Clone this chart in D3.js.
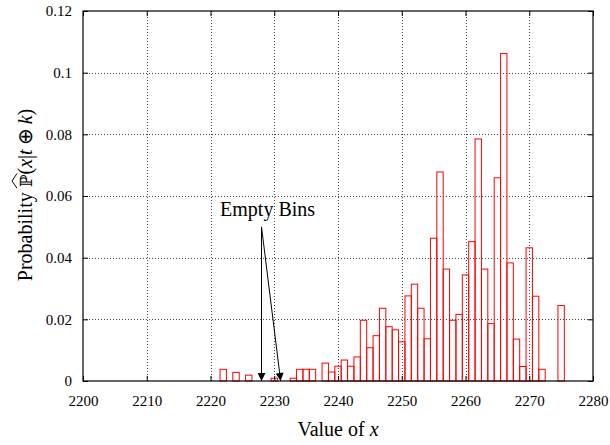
<!DOCTYPE html>
<html>
<head>
<meta charset="utf-8">
<script src="https://cdn.jsdelivr.net/npm/d3@7"></script>
<style>
  body { margin: 0; background: #fff; }
  svg text { font-family: "Liberation Serif", "Times New Roman", serif; fill: #000; }
</style>
</head>
<body>
<div id="chart"></div>
<script>
// histogram bins (value of x) and their estimated probability
var bins = [2222, 2224, 2226, 2230, 2233, 2234, 2235, 2236, 2238, 2239,
            2240, 2241, 2242, 2243, 2244, 2245, 2246, 2247, 2248, 2249,
            2250, 2251, 2252, 2253, 2254, 2255, 2256, 2257, 2258, 2259,
            2260, 2261, 2262, 2263, 2264, 2265, 2266, 2267, 2268, 2269,
            2270, 2271, 2272, 2275];
var probs = [0.0038, 0.0028, 0.0019, 0.0009, 0.0009, 0.0038, 0.0038, 0.0038, 0.0058, 0.0029,
             0.0048, 0.0068, 0.0048, 0.0078, 0.0197, 0.0108, 0.0147, 0.0236, 0.0176, 0.0166,
             0.0127, 0.0276, 0.0314, 0.0236, 0.0137, 0.0463, 0.0678, 0.0363, 0.0197, 0.0216,
             0.0344, 0.0452, 0.0785, 0.0363, 0.0186, 0.0659, 0.1062, 0.0383, 0.0136, 0.0047,
             0.0432, 0.0275, 0.0038, 0.0245];

var xTicks = [2200, 2210, 2220, 2230, 2240, 2250, 2260, 2270, 2280];
var yTicks = [0, 0.02, 0.04, 0.06, 0.08, 0.1, 0.12];
var yTickLabels = ["0", "0.02", "0.04", "0.06", "0.08", "0.1", "0.12"];

// annotation: arrows from the label down to the empty bins
var emptyBins = [2228, 2231];
var arrowFrom = {x: 2228, y: 0.05};
var noteText = "Empty Bins";
var notePos = {x: 2221.5, y: 0.0535};

var width = 610, height = 445;
var margin = {top: 11, right: 17, bottom: 64, left: 83};
var serif = "'Liberation Serif', 'Times New Roman', serif";

var svg = d3.select("#chart").append("svg")
    .attr("width", width)
    .attr("height", height);

var x = d3.scaleLinear()
    .domain([2200, 2280])
    .range([margin.left, width - margin.right]);
var y = d3.scaleLinear()
    .domain([0, 0.12])
    .range([height - margin.bottom, margin.top]);

var defs = svg.append("defs");
defs.append("marker")
    .attr("id", "head")
    .attr("viewBox", "0 0 10 10")
    .attr("refX", 10)
    .attr("refY", 5)
    .attr("markerUnits", "userSpaceOnUse")
    .attr("markerWidth", 10)
    .attr("markerHeight", 8)
    .attr("orient", "auto")
  .append("path")
    .attr("d", "M0,0L10,5L0,10Z")
    .attr("fill", "#000");

// grid
var grid = svg.append("g")
    .attr("stroke", "#444")
    .attr("stroke-width", 1)
    .attr("stroke-dasharray", "1,2");
grid.selectAll(".vg")
    .data(xTicks.slice(1, -1))
  .enter().append("line")
    .attr("x1", function(d) { return Math.round(x(d)) + 0.5; })
    .attr("x2", function(d) { return Math.round(x(d)) + 0.5; })
    .attr("y1", y(0))
    .attr("y2", y(0.12));
grid.selectAll(".hg")
    .data(yTicks.slice(1, -1))
  .enter().append("line")
    .attr("y1", function(d) { return Math.round(y(d)) + 0.5; })
    .attr("y2", function(d) { return Math.round(y(d)) + 0.5; })
    .attr("x1", x(2200))
    .attr("x2", x(2280));

// bars
svg.append("g").selectAll("rect")
    .data(bins)
  .enter().append("rect")
    .attr("x", function(d) { return x(d - 0.5); })
    .attr("width", function(d) { return x(d + 0.5) - x(d - 0.5); })
    .attr("y", function(d, i) { return y(probs[i]); })
    .attr("height", function(d, i) { return y(0) - y(probs[i]); })
    .attr("fill", "none")
    .attr("stroke", "#ff0000")
    .attr("stroke-width", 1);

// axes (ticks drawn inward on all four sides)
svg.append("g")
    .attr("transform", "translate(0," + y(0) + ")")
    .call(d3.axisBottom(x).tickValues(xTicks).tickSize(-5).tickPadding(14)
        .tickFormat(d3.format("d")));
svg.append("g")
    .attr("transform", "translate(" + x(2200) + ",0)")
    .call(d3.axisLeft(y).tickValues(yTicks).tickSize(-5).tickPadding(11)
        .tickFormat(function(d, i) { return yTickLabels[i]; }));
svg.append("g")
    .attr("transform", "translate(0," + y(0.12) + ")")
    .call(d3.axisTop(x).tickValues(xTicks).tickSize(-5).tickFormat(""));
svg.append("g")
    .attr("transform", "translate(" + x(2280) + ",0)")
    .call(d3.axisRight(y).tickValues(yTicks).tickSize(-5).tickFormat(""));

svg.selectAll(".domain").remove();
svg.selectAll(".tick line").attr("stroke", "#000");
svg.selectAll(".tick text")
    .style("font-size", "15px")
    .style("font-family", serif);

// frame
svg.append("rect")
    .attr("x", x(2200))
    .attr("y", y(0.12))
    .attr("width", x(2280) - x(2200))
    .attr("height", y(0) - y(0.12))
    .attr("fill", "none")
    .attr("stroke", "#000")
    .attr("stroke-width", 1.2);

// annotation
svg.append("g").selectAll("line")
    .data(emptyBins)
  .enter().append("line")
    .attr("x1", x(arrowFrom.x))
    .attr("y1", y(arrowFrom.y))
    .attr("x2", function(d) { return x(d); })
    .attr("y2", y(0))
    .attr("stroke", "#000")
    .attr("stroke-width", 1)
    .attr("marker-end", "url(#head)");

svg.append("text")
    .attr("x", x(notePos.x))
    .attr("y", y(notePos.y))
    .style("font-size", "20px")
    .style("font-family", serif)
    .text(noteText);

// axis titles
var xt = svg.append("text")
    .attr("x", (x(2200) + x(2280)) / 2)
    .attr("y", 436)
    .attr("text-anchor", "middle")
    .style("font-size", "20px")
    .style("font-family", serif);
xt.append("tspan").text("Value of ");
xt.append("tspan").attr("font-style", "italic").text("x");

var yg = svg.append("g")
    .attr("transform", "translate(32,195) rotate(-90)");
var yt = yg.append("text")
    .attr("text-anchor", "middle")
    .style("font-size", "20px")
    .style("font-family", serif);
yt.append("tspan").text("Probability ");
yt.append("tspan").style("font-family", "'DejaVu Serif', serif").style("font-size", "17px").text("\u2119");
yt.append("tspan").text("(");
yt.append("tspan").attr("font-style", "italic").text("x");
yt.append("tspan").text("|");
yt.append("tspan").attr("font-style", "italic").text("t");
yt.append("tspan").text("\u2009\u2295\u2009");
yt.append("tspan").attr("font-style", "italic").text("k");
yt.append("tspan").text(")");

// wide hat above the blackboard P
var full = yt.text();
var pi = full.indexOf("\u2119");
var box = yt.node().getExtentOfChar(pi);
var hx0 = box.x - 1, hx1 = box.x + box.width + 1, htop = box.y - 1;
yg.append("path")
    .attr("d", "M" + hx0 + "," + (htop + 2) + "L" + ((hx0 + hx1) / 2) + "," + (htop - 3) + "L" + hx1 + "," + (htop + 2))
    .attr("fill", "none")
    .attr("stroke", "#000")
    .attr("stroke-width", 1);
</script>
</body>
</html>
